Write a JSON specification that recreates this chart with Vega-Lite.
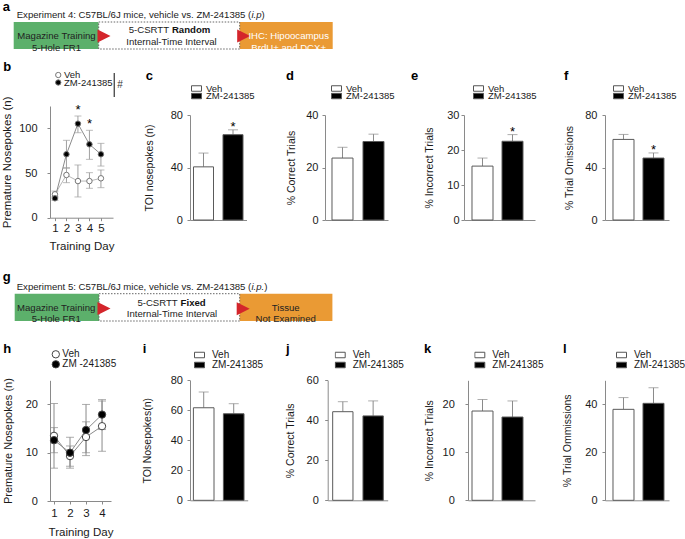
{
"$schema":"https://vega.github.io/schema/vega-lite/v6.json",
"background":"white",
"padding":{"left":1,"top":0,"right":4,"bottom":4},
"columns":5,
"spacing":0,
"bounds":"flush",
"align":"none",
"resolve":{"scale":{"fill":"independent","stroke":"independent"},"legend":{"fill":"independent","stroke":"independent"}},
"config":{
 "font":"Liberation Sans",
 "view":{"stroke":null},
 "axis":{"grid":false,"domainColor":"#8a8a8a","tickColor":"#8a8a8a","tickSize":3,"labelFontSize":11,"labelColor":"#1a1a1a","titleFontSize":10.5,"titleFontWeight":"normal","titleColor":"#1a1a1a","labelOverlap":false,"labelFont":"Liberation Sans","titleFont":"Liberation Sans"},
 "legend":{"labelFont":"Liberation Sans","labelFontSize":10,"labelColor":"#1a1a1a","padding":0},
 "title":{"font":"Liberation Sans","fontSize":13,"fontWeight":"bold","anchor":"start","frame":"group","offset":0,"baseline":"alphabetic","color":"#000"},
 "text":{"font":"Liberation Sans"}
},
"concat":[
{
 "width":140,"height":60,
 "layer":[
  {"data":{"values":[{"part":"train","x0":13,"x1":98,"y0":21,"y1":48},{"part":"test","x0":98,"x1":239,"y0":21,"y1":48},{"part":"out","x0":239,"x1":332,"y0":21,"y1":48}]},
   "mark":{"type":"rect"},
   "encoding":{
    "x":{"field":"x0","type":"quantitative","scale":{"domain":[0,340],"range":[-49.3,290.7],"nice":false,"zero":false},"axis":null},
    "x2":{"field":"x1"},
    "y":{"field":"y0","type":"quantitative","scale":{"domain":[0,60],"range":[0,60],"nice":false,"zero":false},"axis":null},
    "y2":{"field":"y1"},
    "fill":{"field":"part","type":"nominal","scale":{"domain":["train","test","out"],"range":["#5cb06b","#ffffff","#ea9a34"]},"legend":null}}},
  {"data":{"values":[{"x0":98,"x1":239,"y0":21,"y1":48}]},
   "mark":{"type":"rect","fill":null,"stroke":"#666","strokeDash":[1.5,1.5],"strokeWidth":1},
   "encoding":{"x":{"field":"x0","type":"quantitative"},"x2":{"field":"x1"},"y":{"field":"y0","type":"quantitative"},"y2":{"field":"y1"}}},
  {"data":{"values":[{"x":103.3,"y":35},{"x":243,"y":35}]},
   "mark":{"type":"point","shape":"M-1,-1L1,0L-1,1Z","filled":true,"fill":"#d4252b","size":169,"opacity":1,"strokeWidth":0},
   "encoding":{"x":{"field":"x","type":"quantitative"},"y":{"field":"y","type":"quantitative"}}},
  {"data":{"values":[{"t":"Magazine Training\n5-Hole FR1","x":55.8,"y":35},{"t":"Internal-Time Interval","x":170.8,"y":41}]},
   "mark":{"type":"text","fontSize":9.6,"align":"center","baseline":"middle","lineBreak":"\n","lineHeight":12,"color":"#222"},
   "encoding":{"x":{"field":"x","type":"quantitative"},"y":{"field":"y","type":"quantitative"},"text":{"field":"t"}}},
  {"data":{"values":[{"t":"IHC: Hipoocampus\nBrdU+ and DCX+","x":288,"y":35}]},
   "mark":{"type":"text","fontSize":9.6,"align":"center","baseline":"middle","lineBreak":"\n","lineHeight":12,"color":"#ffffff"},
   "encoding":{"x":{"field":"x","type":"quantitative"},"y":{"field":"y","type":"quantitative"},"text":{"field":"t"}}},
  {"data":{"values":[{"t":"5-CSRTT","x":128,"y":29},{"t":"Experiment 4: C57BL/6J mice, vehicle vs. ZM-241385 (","x":16,"y":14},{"t":")","x":260.9,"y":14}]},
   "mark":{"type":"text","fontSize":9.6,"align":"left","baseline":"middle","color":"#222"},
   "encoding":{"x":{"field":"x","type":"quantitative"},"y":{"field":"y","type":"quantitative"},"text":{"field":"t"}}},
  {"data":{"values":[{"t":"Random","x":171.2,"y":29}]},
   "mark":{"type":"text","fontSize":9.6,"fontWeight":"bold","align":"left","baseline":"middle","color":"#111"},
   "encoding":{"x":{"field":"x","type":"quantitative"},"y":{"field":"y","type":"quantitative"},"text":{"field":"t"}}},
  {"data":{"values":[{"t":"i.p","x":250.75,"y":14}]},
   "mark":{"type":"text","fontSize":9.6,"fontStyle":"italic","align":"left","baseline":"middle","color":"#222"},
   "encoding":{"x":{"field":"x","type":"quantitative"},"y":{"field":"y","type":"quantitative"},"text":{"field":"t"}}},
  {"data":{"values":[{"t":"a","x":2,"y":9.5}]},
   "mark":{"type":"text","fontSize":13,"fontWeight":"bold","align":"left","baseline":"alphabetic","color":"#000"},
   "encoding":{"x":{"field":"x","type":"quantitative"},"y":{"field":"y","type":"quantitative"},"text":{"field":"t"}}}
 ]
},
{"width":10,"height":60,"data":{"values":[]},"mark":"point","encoding":{}},
{"width":10,"height":60,"data":{"values":[]},"mark":"point","encoding":{}},
{"width":10,"height":60,"data":{"values":[]},"mark":"point","encoding":{}},
{"width":10,"height":60,"data":{"values":[]},"mark":"point","encoding":{}},
{
 "width":140,"height":159,
 "title":{"text":"b","dx":-46.8,"dy":16.5},
 "data":{"values":[
  {"day":1,"group":"Veh","mean":26.2,"lo":22.5,"hi":29.8,"star":""},
  {"day":2,"group":"Veh","mean":47.8,"lo":39.2,"hi":56,"star":""},
  {"day":3,"group":"Veh","mean":41,"lo":23.2,"hi":59,"star":""},
  {"day":4,"group":"Veh","mean":41,"lo":32.9,"hi":50.4,"star":""},
  {"day":5,"group":"Veh","mean":44.1,"lo":33.6,"hi":53.4,"star":""},
  {"day":1,"group":"ZM-241385","mean":21.7,"lo":19.5,"hi":23.9,"star":""},
  {"day":2,"group":"ZM-241385","mean":71,"lo":55.3,"hi":86.6,"star":""},
  {"day":3,"group":"ZM-241385","mean":105.2,"lo":95.1,"hi":113.8,"star":"*"},
  {"day":4,"group":"ZM-241385","mean":82.1,"lo":65.3,"hi":97.8,"star":"*"},
  {"day":5,"group":"ZM-241385","mean":71,"lo":57.8,"hi":83.2,"star":""}]},
 "encoding":{"x":{"field":"day","type":"quantitative","scale":{"domain":[0.57,6.05],"range":[0,63],"nice":false,"zero":false},"axis":{"values":[1,2,3,4,5],"format":"d","title":"Training Day","labelFontSize":11.5,"titleFontSize":11.5,"labelPadding":2,"titlePadding":6,"offset":-2.3}}},
 "layer":[
  {"mark":{"type":"rule","color":"#a0a0a0"},"encoding":{"y":{"field":"lo","type":"quantitative","scale":{"domain":[0,125],"range":[156.7,45],"nice":false,"zero":false},"axis":{"values":[0,25,50,75,100,125],"title":"Premature Nosepokes (n)","titleFontSize":11.5,"labelPadding":10,"titlePadding":6}},"y2":{"field":"hi"}}},
  {"mark":{"type":"tick","orient":"horizontal","size":7,"thickness":1,"color":"#a0a0a0"},"encoding":{"y":{"field":"hi","type":"quantitative"}}},
  {"mark":{"type":"tick","orient":"horizontal","size":7,"thickness":1,"color":"#a0a0a0"},"encoding":{"y":{"field":"lo","type":"quantitative"}}},
  {"transform":[{"filter":"datum.group==='Veh'"}],"mark":{"type":"line","color":"#b8b8b8","strokeWidth":1},"encoding":{"y":{"field":"mean","type":"quantitative"}}},
  {"transform":[{"filter":"datum.group!=='Veh'"}],"mark":{"type":"line","color":"#8c8c8c","strokeWidth":1},"encoding":{"y":{"field":"mean","type":"quantitative"}}},
  {"mark":{"type":"point","filled":true,"size":30,"strokeWidth":1,"opacity":1},"encoding":{"y":{"field":"mean","type":"quantitative"},
    "fill":{"field":"group","type":"nominal","scale":{"domain":["Veh","ZM-241385"],"range":["#ffffff","#000000"]},"legend":{"values":["Veh"],"orient":"none","legendX":3.5,"legendY":10.5,"title":null,"symbolType":"circle","symbolSize":28,"symbolStrokeColor":"#777","symbolStrokeWidth":1,"labelOffset":1,"rowPadding":0,"clipHeight":7,"labelFontSize":9.5}},
    "stroke":{"field":"group","type":"nominal","scale":{"domain":["ZM-241385","Veh"],"range":["#777777","#777777"]},"legend":{"values":["ZM-241385"],"orient":"none","legendX":3.5,"legendY":18,"title":null,"symbolType":"circle","symbolSize":28,"symbolFillColor":"#000000","symbolStrokeWidth":1,"labelOffset":1,"rowPadding":0,"clipHeight":7,"labelFontSize":9.5}}}},
  {"mark":{"type":"text","fontSize":13,"dy":-2,"baseline":"alphabetic","align":"center"},"encoding":{"y":{"field":"hi","type":"quantitative"},"text":{"field":"star"}}},
  {"data":{"values":[{"day":6.16,"lo":135,"hi":162,"note":"#","mean":149}]},
   "layer":[
    {"mark":{"type":"rule","color":"#444444","strokeWidth":1.3},"encoding":{"x":{"field":"day","type":"quantitative"},"y":{"field":"lo","type":"quantitative"},"y2":{"field":"hi"}}},
    {"mark":{"type":"text","fontSize":10,"align":"left","baseline":"middle","color":"#333","dx":3},"encoding":{"x":{"field":"day","type":"quantitative"},"y":{"field":"mean","type":"quantitative"},"text":{"field":"note"}}}
   ]}
 ]
},
{
 "width":134.7,"height":159,
 "title":{"text":"c","dx":-44.3,"dy":25.5},
 "data":{"values":[{"group":"Veh","mean":40.5,"hi":51,"star":""},{"group":"ZM-241385","mean":65,"hi":68.7,"star":"*"}]},
 "encoding":{"x":{"field":"group","type":"nominal","sort":null,"scale":{"type":"band","domain":["Veh","ZM-241385"],"range":[0,56.5],"paddingInner":0.322,"paddingOuter":0.1186,"align":0.5},"axis":{"labels":false,"ticks":false,"title":null}}},
 "layer":[
  {"mark":{"type":"rule","color":"#8a8a8a"},"encoding":{"y":{"field":"mean","type":"quantitative","scale":{"domain":[0,80],"range":[159,54],"nice":false},"axis":{"values":[0,20,40,60,80],"title":"TOI nosepokes (n)","labelPadding":4.6,"titlePadding":16}},"y2":{"field":"hi"}}},
  {"mark":{"type":"tick","orient":"horizontal","size":10,"thickness":1,"color":"#8a8a8a"},"encoding":{"y":{"field":"hi","type":"quantitative"}}},
  {"mark":{"type":"bar","strokeWidth":1},"encoding":{"y":{"field":"mean","type":"quantitative"},
    "fill":{"field":"group","type":"nominal","scale":{"domain":["Veh","ZM-241385"],"range":["#ffffff","#000000"]},"legend":{"values":["Veh"],"orient":"none","legendX":1,"legendY":24,"title":null,"symbolType":"M-1,-0.55L1,-0.55L1,0.55L-1,0.55Z","symbolSize":100,"symbolStrokeColor":"#555","symbolStrokeWidth":1,"labelOffset":4,"rowPadding":0,"clipHeight":7,"labelFontSize":9.5}},
    "stroke":{"field":"group","type":"nominal","scale":{"domain":["ZM-241385","Veh"],"range":["#5a5a5a","#5a5a5a"]},"legend":{"values":["ZM-241385"],"orient":"none","legendX":1,"legendY":31.5,"title":null,"symbolType":"M-1,-0.55L1,-0.55L1,0.55L-1,0.55Z","symbolSize":100,"symbolFillColor":"#000000","symbolStrokeWidth":1,"labelOffset":4,"rowPadding":0,"clipHeight":7,"labelFontSize":9.5}}}},
  {"mark":{"type":"text","fontSize":13,"dy":1,"baseline":"alphabetic","align":"center"},"encoding":{"y":{"field":"hi","type":"quantitative"},"text":{"field":"star"}}}
 ]
},
{
 "width":139,"height":159,
 "title":{"text":"d","dx":-39,"dy":25.5},
 "data":{"values":[{"group":"Veh","mean":23.6,"hi":27.7,"star":""},{"group":"ZM-241385","mean":29.9,"hi":32.7,"star":""}]},
 "encoding":{"x":{"field":"group","type":"nominal","sort":null,"scale":{"type":"band","domain":["Veh","ZM-241385"],"range":[0,63],"paddingInner":0.3226,"paddingOuter":0.1774,"align":0.636},"axis":{"labels":false,"ticks":false,"title":null}}},
 "layer":[
  {"mark":{"type":"rule","color":"#8a8a8a"},"encoding":{"y":{"field":"mean","type":"quantitative","scale":{"domain":[0,40],"range":[159,54],"nice":false},"axis":{"values":[0,10,20,30,40],"title":"% Correct Trials","labelPadding":4,"titlePadding":9.5}},"y2":{"field":"hi"}}},
  {"mark":{"type":"tick","orient":"horizontal","size":10,"thickness":1,"color":"#8a8a8a"},"encoding":{"y":{"field":"hi","type":"quantitative"}}},
  {"mark":{"type":"bar","strokeWidth":1},"encoding":{"y":{"field":"mean","type":"quantitative"},
    "fill":{"field":"group","type":"nominal","scale":{"domain":["Veh","ZM-241385"],"range":["#ffffff","#000000"]},"legend":{"values":["Veh"],"orient":"none","legendX":6,"legendY":24,"title":null,"symbolType":"M-1,-0.55L1,-0.55L1,0.55L-1,0.55Z","symbolSize":100,"symbolStrokeColor":"#555","symbolStrokeWidth":1,"labelOffset":4,"rowPadding":0,"clipHeight":7,"labelFontSize":9.5}},
    "stroke":{"field":"group","type":"nominal","scale":{"domain":["ZM-241385","Veh"],"range":["#5a5a5a","#5a5a5a"]},"legend":{"values":["ZM-241385"],"orient":"none","legendX":6,"legendY":31.5,"title":null,"symbolType":"M-1,-0.55L1,-0.55L1,0.55L-1,0.55Z","symbolSize":100,"symbolFillColor":"#000000","symbolStrokeWidth":1,"labelOffset":4,"rowPadding":0,"clipHeight":7,"labelFontSize":9.5}}}},
  {"mark":{"type":"text","fontSize":13,"dy":1,"baseline":"alphabetic","align":"center"},"encoding":{"y":{"field":"hi","type":"quantitative"},"text":{"field":"star"}}}
 ]
},
{
 "width":141,"height":159,
 "title":{"text":"e","dx":-53,"dy":25.5},
 "data":{"values":[{"group":"Veh","mean":15.4,"hi":17.7,"star":""},{"group":"ZM-241385","mean":22.5,"hi":24.4,"star":"*"}]},
 "encoding":{"x":{"field":"group","type":"nominal","sort":null,"scale":{"type":"band","domain":["Veh","ZM-241385"],"range":[0,71],"paddingInner":0.3,"paddingOuter":0.3333,"align":0.4},"axis":{"labels":false,"ticks":false,"title":null}}},
 "layer":[
  {"mark":{"type":"rule","color":"#8a8a8a"},"encoding":{"y":{"field":"mean","type":"quantitative","scale":{"domain":[0,30],"range":[159,54],"nice":false},"axis":{"values":[0,10,20,30],"title":"% Incorrect Trials","labelPadding":2,"titlePadding":12.5}},"y2":{"field":"hi"}}},
  {"mark":{"type":"tick","orient":"horizontal","size":10,"thickness":1,"color":"#8a8a8a"},"encoding":{"y":{"field":"hi","type":"quantitative"}}},
  {"mark":{"type":"bar","strokeWidth":1},"encoding":{"y":{"field":"mean","type":"quantitative"},
    "fill":{"field":"group","type":"nominal","scale":{"domain":["Veh","ZM-241385"],"range":["#ffffff","#000000"]},"legend":{"values":["Veh"],"orient":"none","legendX":9,"legendY":24,"title":null,"symbolType":"M-1,-0.55L1,-0.55L1,0.55L-1,0.55Z","symbolSize":100,"symbolStrokeColor":"#555","symbolStrokeWidth":1,"labelOffset":4,"rowPadding":0,"clipHeight":7,"labelFontSize":9.5}},
    "stroke":{"field":"group","type":"nominal","scale":{"domain":["ZM-241385","Veh"],"range":["#5a5a5a","#5a5a5a"]},"legend":{"values":["ZM-241385"],"orient":"none","legendX":9,"legendY":31.5,"title":null,"symbolType":"M-1,-0.55L1,-0.55L1,0.55L-1,0.55Z","symbolSize":100,"symbolFillColor":"#000000","symbolStrokeWidth":1,"labelOffset":4,"rowPadding":0,"clipHeight":7,"labelFontSize":9.5}}}},
  {"mark":{"type":"text","fontSize":13,"dy":1,"baseline":"alphabetic","align":"center"},"encoding":{"y":{"field":"hi","type":"quantitative"},"text":{"field":"star"}}}
 ]
},
{
 "width":64,"height":159,
 "title":{"text":"f","dx":-41,"dy":25.5},
 "data":{"values":[{"group":"Veh","mean":61.4,"hi":65.2,"star":""},{"group":"ZM-241385","mean":47.2,"hi":51.1,"star":"*"}]},
 "encoding":{"x":{"field":"group","type":"nominal","sort":null,"scale":{"type":"band","domain":["Veh","ZM-241385"],"range":[0,64],"paddingInner":0.3,"paddingOuter":0.2167,"align":0.615},"axis":{"labels":false,"ticks":false,"title":null}}},
 "layer":[
  {"mark":{"type":"rule","color":"#8a8a8a"},"encoding":{"y":{"field":"mean","type":"quantitative","scale":{"domain":[0,80],"range":[159,54],"nice":false},"axis":{"values":[0,20,40,60,80],"title":"% Trial Omissions","labelPadding":5,"titlePadding":10}},"y2":{"field":"hi"}}},
  {"mark":{"type":"tick","orient":"horizontal","size":10,"thickness":1,"color":"#8a8a8a"},"encoding":{"y":{"field":"hi","type":"quantitative"}}},
  {"mark":{"type":"bar","strokeWidth":1},"encoding":{"y":{"field":"mean","type":"quantitative"},
    "fill":{"field":"group","type":"nominal","scale":{"domain":["Veh","ZM-241385"],"range":["#ffffff","#000000"]},"legend":{"values":["Veh"],"orient":"none","legendX":8,"legendY":24,"title":null,"symbolType":"M-1,-0.55L1,-0.55L1,0.55L-1,0.55Z","symbolSize":100,"symbolStrokeColor":"#555","symbolStrokeWidth":1,"labelOffset":4,"rowPadding":0,"clipHeight":7,"labelFontSize":9.5}},
    "stroke":{"field":"group","type":"nominal","scale":{"domain":["ZM-241385","Veh"],"range":["#5a5a5a","#5a5a5a"]},"legend":{"values":["ZM-241385"],"orient":"none","legendX":8,"legendY":31.5,"title":null,"symbolType":"M-1,-0.55L1,-0.55L1,0.55L-1,0.55Z","symbolSize":100,"symbolFillColor":"#000000","symbolStrokeWidth":1,"labelOffset":4,"rowPadding":0,"clipHeight":7,"labelFontSize":9.5}}}},
  {"mark":{"type":"text","fontSize":13,"dy":1,"baseline":"alphabetic","align":"center"},"encoding":{"y":{"field":"hi","type":"quantitative"},"text":{"field":"star"}}}
 ]
},
{
 "width":140,"height":111,
 "layer":[
  {"data":{"values":[{"part":"train","x0":14,"x1":98.3,"y0":22.7,"y1":50},{"part":"test","x0":98.3,"x1":239,"y0":22.7,"y1":50},{"part":"out","x0":239,"x1":331.7,"y0":22.7,"y1":50}]},
   "mark":{"type":"rect"},
   "encoding":{
    "x":{"field":"x0","type":"quantitative","scale":{"domain":[0,340],"range":[-49.3,290.7],"nice":false,"zero":false},"axis":null},
    "x2":{"field":"x1"},
    "y":{"field":"y0","type":"quantitative","scale":{"domain":[-51,60],"range":[0,111],"nice":false,"zero":false},"axis":null},
    "y2":{"field":"y1"},
    "fill":{"field":"part","type":"nominal","scale":{"domain":["train","test","out"],"range":["#5cb06b","#ffffff","#ea9a34"]},"legend":null}}},
  {"data":{"values":[{"x0":98.3,"x1":239,"y0":22.7,"y1":50}]},
   "mark":{"type":"rect","fill":null,"stroke":"#666","strokeDash":[1.5,1.5],"strokeWidth":1},
   "encoding":{"x":{"field":"x0","type":"quantitative"},"x2":{"field":"x1"},"y":{"field":"y0","type":"quantitative"},"y2":{"field":"y1"}}},
  {"data":{"values":[{"x":103.3,"y":37.5},{"x":242.5,"y":37.8}]},
   "mark":{"type":"point","shape":"M-1,-1L1,0L-1,1Z","filled":true,"fill":"#d4252b","size":169,"opacity":1,"strokeWidth":0},
   "encoding":{"x":{"field":"x","type":"quantitative"},"y":{"field":"y","type":"quantitative"}}},
  {"data":{"values":[{"t":"Magazine Training\n5-Hole FR1","x":55.5,"y":37.2},{"t":"Internal-Time Interval","x":171.3,"y":42.7},{"t":"Tissue\nNot Examined","x":285,"y":37.2}]},
   "mark":{"type":"text","fontSize":9.6,"align":"center","baseline":"middle","lineBreak":"\n","lineHeight":11,"color":"#222"},
   "encoding":{"x":{"field":"x","type":"quantitative"},"y":{"field":"y","type":"quantitative"},"text":{"field":"t"}}},
  {"data":{"values":[{"t":"5-CSRTT","x":136.7,"y":31.7},{"t":"Experiment 5: C57BL/6J mice, vehicle vs. ZM-241385 (","x":16,"y":16},{"t":")","x":263.6,"y":16}]},
   "mark":{"type":"text","fontSize":9.6,"align":"left","baseline":"middle","color":"#222"},
   "encoding":{"x":{"field":"x","type":"quantitative"},"y":{"field":"y","type":"quantitative"},"text":{"field":"t"}}},
  {"data":{"values":[{"t":"Fixed","x":179.9,"y":31.7}]},
   "mark":{"type":"text","fontSize":9.6,"fontWeight":"bold","align":"left","baseline":"middle","color":"#111"},
   "encoding":{"x":{"field":"x","type":"quantitative"},"y":{"field":"y","type":"quantitative"},"text":{"field":"t"}}},
  {"data":{"values":[{"t":"i.p.","x":250.75,"y":16}]},
   "mark":{"type":"text","fontSize":9.6,"fontStyle":"italic","align":"left","baseline":"middle","color":"#222"},
   "encoding":{"x":{"field":"x","type":"quantitative"},"y":{"field":"y","type":"quantitative"},"text":{"field":"t"}}},
  {"data":{"values":[{"t":"g","x":2,"y":10}]},
   "mark":{"type":"text","fontSize":13,"fontWeight":"bold","align":"left","baseline":"alphabetic","color":"#000"},
   "encoding":{"x":{"field":"x","type":"quantitative"},"y":{"field":"y","type":"quantitative"},"text":{"field":"t"}}}
 ]
},
{"width":10,"height":111,"data":{"values":[]},"mark":"point","encoding":{}},
{"width":10,"height":111,"data":{"values":[]},"mark":"point","encoding":{}},
{"width":10,"height":111,"data":{"values":[]},"mark":"point","encoding":{}},
{"width":10,"height":111,"data":{"values":[]},"mark":"point","encoding":{}},
{
 "width":140,"height":170,
 "title":{"text":"h","dx":-46.8,"dy":28.5},
 "data":{"values":[
  {"day":1,"group":"Veh","mean":13.5,"lo":6.8,"hi":20.2},
  {"day":2,"group":"Veh","mean":9.3,"lo":7.2,"hi":11.4},
  {"day":3,"group":"Veh","mean":13.25,"lo":10.0,"hi":16.4},
  {"day":4,"group":"Veh","mean":15.5,"lo":10.3,"hi":20.7},
  {"day":1,"group":"ZM-241385","mean":12.6,"lo":10.0,"hi":15.2},
  {"day":2,"group":"ZM-241385","mean":10.0,"lo":6.8,"hi":13.2},
  {"day":3,"group":"ZM-241385","mean":14.7,"lo":9.4,"hi":20.0},
  {"day":4,"group":"ZM-241385","mean":17.9,"lo":14.8,"hi":21.0}]},
 "encoding":{"x":{"field":"day","type":"quantitative","scale":{"domain":[0.75,4.56],"range":[0,61],"nice":false,"zero":false},"axis":{"values":[1,2,3,4],"format":"d","title":"Training Day","labelFontSize":11.5,"titleFontSize":11.5,"labelPadding":3,"titlePadding":8}}},
 "layer":[
  {"mark":{"type":"rule","color":"#8a8a8a"},"encoding":{"y":{"field":"lo","type":"quantitative","scale":{"domain":[0,25],"range":[170,49.3],"nice":false,"zero":false},"axis":{"values":[0,5,10,15,20,25],"title":"Premature Nosepokes (n)","titleFontSize":11,"labelPadding":9.6,"titlePadding":11.5}},"y2":{"field":"hi"}}},
  {"mark":{"type":"tick","orient":"horizontal","size":8,"thickness":1,"color":"#8a8a8a"},"encoding":{"y":{"field":"hi","type":"quantitative"}}},
  {"mark":{"type":"tick","orient":"horizontal","size":8,"thickness":1,"color":"#8a8a8a"},"encoding":{"y":{"field":"lo","type":"quantitative"}}},
  {"mark":{"type":"line","color":"#8a8a8a","strokeWidth":1},"encoding":{"y":{"field":"mean","type":"quantitative"},"detail":{"field":"group","type":"nominal"}}},
  {"mark":{"type":"point","filled":true,"size":54,"stroke":"#444","strokeWidth":1,"opacity":1},"encoding":{"y":{"field":"mean","type":"quantitative"},"fill":{"field":"group","type":"nominal","scale":{"domain":["Veh","ZM-241385"],"range":["#ffffff","#000000"]},"legend":{"orient":"none","legendX":0.8,"legendY":18.3,"title":null,"symbolType":"circle","symbolSize":54,"symbolStrokeColor":"#444","symbolStrokeWidth":1,"labelOffset":1.5,"rowPadding":0,"clipHeight":10,"labelFontSize":10,"labelExpr":"datum.label === 'ZM-241385' ? 'ZM -241385' : datum.label"}}}}
 ]
},
{
 "width":134.7,"height":169.3,
 "title":{"text":"i","dx":-47.3,"dy":29},
 "data":{"values":[{"group":"Veh","mean":61.7,"hi":72.2},{"group":"ZM-241385","mean":57.7,"hi":64.4}]},
 "encoding":{"x":{"field":"group","type":"nominal","sort":null,"scale":{"type":"band","domain":["Veh","ZM-241385"],"range":[0,57.7],"paddingInner":0.313,"paddingOuter":0.118,"align":0.48},"axis":{"labels":false,"ticks":false,"title":null}}},
 "layer":[
  {"mark":{"type":"rule","color":"#8a8a8a"},"encoding":{"y":{"field":"mean","type":"quantitative","scale":{"domain":[0,80],"range":[169.3,49.3],"nice":false},"axis":{"values":[0,20,40,60,80],"title":"TOI Nosepokes(n)","labelPadding":4.6,"titlePadding":17.5}},"y2":{"field":"hi"}}},
  {"mark":{"type":"tick","orient":"horizontal","size":10,"thickness":1,"color":"#8a8a8a"},"encoding":{"y":{"field":"hi","type":"quantitative"}}},
  {"mark":{"type":"bar","stroke":"#5a5a5a","strokeWidth":1},"encoding":{"y":{"field":"mean","type":"quantitative"},"fill":{"field":"group","type":"nominal","scale":{"domain":["Veh","ZM-241385"],"range":["#ffffff","#000000"]},"legend":{"orient":"none","legendX":4,"legendY":19,"title":null,"symbolType":"M-1,-0.55L1,-0.55L1,0.55L-1,0.55Z","symbolSize":100,"symbolStrokeColor":"#555","symbolStrokeWidth":1,"labelOffset":7,"rowPadding":0,"clipHeight":10,"labelFontSize":10}}}}
 ]
},
{
 "width":139,"height":169.3,
 "title":{"text":"j","dx":-39,"dy":29},
 "data":{"values":[{"group":"Veh","mean":44.3,"hi":49.3},{"group":"ZM-241385","mean":42.2,"hi":49.7}]},
 "encoding":{"x":{"field":"group","type":"nominal","sort":null,"scale":{"type":"band","domain":["Veh","ZM-241385"],"range":[2.7,62.7],"paddingInner":0.33,"paddingOuter":0.155,"align":0.53},"axis":{"labels":false,"ticks":false,"title":null}}},
 "layer":[
  {"mark":{"type":"rule","color":"#8a8a8a"},"encoding":{"y":{"field":"mean","type":"quantitative","scale":{"domain":[0,60],"range":[169.3,49.3],"nice":false},"axis":{"values":[0,10,20,30,40,50,60],"title":"% Correct Trials","labelPadding":6.4,"titlePadding":10.8,"offset":-2.7}},"y2":{"field":"hi"}}},
  {"mark":{"type":"tick","orient":"horizontal","size":10,"thickness":1,"color":"#8a8a8a"},"encoding":{"y":{"field":"hi","type":"quantitative"}}},
  {"mark":{"type":"bar","stroke":"#5a5a5a","strokeWidth":1},"encoding":{"y":{"field":"mean","type":"quantitative"},"fill":{"field":"group","type":"nominal","scale":{"domain":["Veh","ZM-241385"],"range":["#ffffff","#000000"]},"legend":{"orient":"none","legendX":9.7,"legendY":19,"title":null,"symbolType":"M-1,-0.55L1,-0.55L1,0.55L-1,0.55Z","symbolSize":100,"symbolStrokeColor":"#555","symbolStrokeWidth":1,"labelOffset":7,"rowPadding":0,"clipHeight":10,"labelFontSize":10}}}}
 ]
},
{
 "width":141,"height":169.3,
 "title":{"text":"k","dx":-40,"dy":29},
 "data":{"values":[{"group":"Veh","mean":18.6,"hi":21.0},{"group":"ZM-241385","mean":17.35,"hi":20.7}]},
 "encoding":{"x":{"field":"group","type":"nominal","sort":null,"scale":{"type":"band","domain":["Veh","ZM-241385"],"range":[4,71],"paddingInner":0.3,"paddingOuter":0.267,"align":0.25},"axis":{"labels":false,"ticks":false,"title":null}}},
 "layer":[
  {"mark":{"type":"rule","color":"#8a8a8a"},"encoding":{"y":{"field":"mean","type":"quantitative","scale":{"domain":[0,25],"range":[169.3,49.3],"nice":false},"axis":{"values":[0,5,10,15,20,25],"title":"% Incorrect Trials","labelPadding":10.7,"titlePadding":7.8,"offset":-4}},"y2":{"field":"hi"}}},
  {"mark":{"type":"tick","orient":"horizontal","size":10,"thickness":1,"color":"#8a8a8a"},"encoding":{"y":{"field":"hi","type":"quantitative"}}},
  {"mark":{"type":"bar","stroke":"#5a5a5a","strokeWidth":1},"encoding":{"y":{"field":"mean","type":"quantitative"},"fill":{"field":"group","type":"nominal","scale":{"domain":["Veh","ZM-241385"],"range":["#ffffff","#000000"]},"legend":{"orient":"none","legendX":10.3,"legendY":19,"title":null,"symbolType":"M-1,-0.55L1,-0.55L1,0.55L-1,0.55Z","symbolSize":100,"symbolStrokeColor":"#555","symbolStrokeWidth":1,"labelOffset":7,"rowPadding":0,"clipHeight":10,"labelFontSize":10}}}}
 ]
},
{
 "width":64,"height":169.3,
 "title":{"text":"l","dx":-42,"dy":29},
 "data":{"values":[{"group":"Veh","mean":37.9,"hi":42.8},{"group":"ZM-241385","mean":40.4,"hi":46.9}]},
 "encoding":{"x":{"field":"group","type":"nominal","sort":null,"scale":{"type":"band","domain":["Veh","ZM-241385"],"range":[0,64],"paddingInner":0.3,"paddingOuter":0.2167,"align":0.615},"axis":{"labels":false,"ticks":false,"title":null}}},
 "layer":[
  {"mark":{"type":"rule","color":"#8a8a8a"},"encoding":{"y":{"field":"mean","type":"quantitative","scale":{"domain":[0,50],"range":[169.3,49.3],"nice":false},"axis":{"values":[0,10,20,30,40,50],"title":"% Trial Ommissions","labelPadding":5,"titlePadding":11.8}},"y2":{"field":"hi"}}},
  {"mark":{"type":"tick","orient":"horizontal","size":10,"thickness":1,"color":"#8a8a8a"},"encoding":{"y":{"field":"hi","type":"quantitative"}}},
  {"mark":{"type":"bar","stroke":"#5a5a5a","strokeWidth":1},"encoding":{"y":{"field":"mean","type":"quantitative"},"fill":{"field":"group","type":"nominal","scale":{"domain":["Veh","ZM-241385"],"range":["#ffffff","#000000"]},"legend":{"orient":"none","legendX":11,"legendY":19,"title":null,"symbolType":"M-1,-0.55L1,-0.55L1,0.55L-1,0.55Z","symbolSize":100,"symbolStrokeColor":"#555","symbolStrokeWidth":1,"labelOffset":7,"rowPadding":0,"clipHeight":10,"labelFontSize":10}}}}
 ]
}
]
}
